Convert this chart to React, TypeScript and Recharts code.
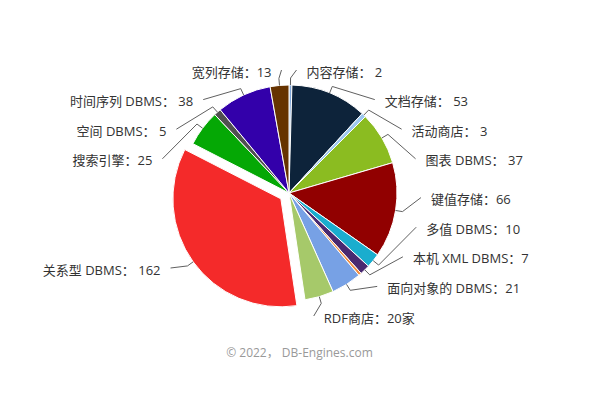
import { PieChart, Pie, Cell } from 'recharts';

const categories = [
  '内容存储', '文档存储', '活动商店', '图表 DBMS', '键值存储', '多值 DBMS', '本机 XML DBMS', '导航 DBMS',
  '面向对象的 DBMS', 'RDF商店', '关系型 DBMS', '搜索引擎', '空间 DBMS', '时间序列 DBMS', '宽列存储',
];
const counts = [2, 53, 3, 37, 66, 10, 7, 2, 21, 20, 162, 25, 5, 38, 13];
// label texts as shown (the tiny navigational slice has its label hidden)
const labelTexts = [
  '内容存储： 2', '文档存储： 53', '活动商店： 3', '图表 DBMS： 37', '键值存储：66', '多值 DBMS：10', '本机 XML DBMS：7', '',
  '面向对象的 DBMS：21', 'RDF商店：20家', '关系型 DBMS： 162', '搜索引擎：25', '空间 DBMS： 5', '时间序列 DBMS： 38', '宽列存储：13',
];
const colors = [
  '#7fa7da', '#0d233a', '#9cc8ef', '#8bbc21', '#910000', '#1aadce', '#492970', '#f28f43',
  '#77a1e5', '#a6c96a', '#f42a2a', '#05a805', '#505050', '#3300aa', '#663300',
];
const slicedCategory = '关系型 DBMS';
const credit = '© 2022， DB-Engines.com';

const data = categories.map((name, i) => ({ name, value: counts[i], label: labelTexts[i] }));

const W = 599;
const H = 407;
const CX = 289;
const CY = 193;
const R = 108;
const SLICE_OFFSET = 10;
const LABEL_R = 122;
const ROW = 29.6;
const TOP = 72;
const BOTTOM = 318;
const RAD = Math.PI / 180;
const FONT = '"Open Sans", "Noto Sans CJK SC", sans-serif';

const total = counts.reduce((a, b) => a + b, 0);
const slicedIndex = categories.indexOf(slicedCategory);

// mid angle of each slice, clockwise from 12 o'clock
const midAngles: number[] = [];
{
  let acc = 0;
  counts.forEach(v => {
    midAngles.push(((acc + v / 2) / total) * 360);
    acc += v;
  });
}

const sliceMid = midAngles[slicedIndex] * RAD;
const slicedCx = CX + SLICE_OFFSET * Math.sin(sliceMid);
const slicedCy = CY - SLICE_OFFSET * Math.cos(sliceMid);

// spread labels in rows on each side so they do not overlap
const labelY: number[] = new Array(counts.length).fill(0);
['right', 'left'].forEach(side => {
  const items = midAngles
    .map((a, i) => ({ i, a }))
    .filter(d => labelTexts[d.i] !== '' && (side === 'right' ? d.a < 180 : d.a >= 180))
    .map(d => {
      const shift = d.i === slicedIndex ? slicedCy - CY : 0;
      return { i: d.i, y: CY - LABEL_R * Math.cos(d.a * RAD) + shift };
    })
    .sort((p, q) => p.y - q.y);
  for (let k = 0; k < items.length; k++) {
    const prev = k > 0 ? items[k - 1].y + ROW : TOP;
    items[k].y = Math.max(items[k].y, prev);
  }
  for (let k = items.length - 1; k >= 0; k--) {
    const next = k < items.length - 1 ? items[k + 1].y - ROW : BOTTOM;
    items[k].y = Math.min(items[k].y, next);
  }
  items.forEach(d => (labelY[d.i] = d.y));
});

function makeLabel(sliced: boolean) {
  return (props: any) => {
    const { cx, cy, midAngle, outerRadius, index } = props;
    if ((index === slicedIndex) !== sliced) return null;
    const text = labelTexts[index];
    if (!text) return null;
    const a = -midAngle * RAD;
    const ex = cx + outerRadius * Math.cos(a);
    const ey = cy + outerRadius * Math.sin(a);
    const bx = cx + (outerRadius + 7) * Math.cos(a);
    const by = cy + (outerRadius + 7) * Math.sin(a);
    const y = labelY[index];
    const right = Math.cos(a) >= 0;
    const t = (y - cy - 3) / 124.2;
    const off = 132 * Math.sqrt(Math.max(0, 1 - t * t));
    const ax = right ? cx + off : cx - off;
    return (
      <g key={`lbl-${index}`}>
        <path
          d={`M${ax},${y - 2}L${bx},${by}L${ex},${ey}`}
          stroke="#606060"
          strokeWidth={1}
          fill="none"
        />
        <text
          x={right ? ax + 10 : ax - 10}
          y={y + 4.5}
          textAnchor={right ? 'start' : 'end'}
          fontSize={13}
          fill="#333333"
          fontFamily={FONT}
        >
          {text}
        </text>
      </g>
    );
  };
}

export default function App() {
  return (
    <div style={{ position: 'absolute', left: 0, top: 0, width: W, height: H, background: '#fff' }}>
      <PieChart width={W} height={H} margin={{ top: 0, right: 0, bottom: 0, left: 0 }}>
        <Pie
          data={data}
          dataKey="value"
          nameKey="name"
          cx={CX}
          cy={CY}
          outerRadius={R}
          startAngle={90}
          endAngle={-270}
          isAnimationActive={false}
          label={makeLabel(false)}
          labelLine={false}
        >
          {data.map((d, i) => (
            <Cell
              key={d.name}
              fill={i === slicedIndex ? 'transparent' : colors[i]}
              stroke={i === slicedIndex ? 'none' : '#ffffff'}
              strokeWidth={1}
            />
          ))}
        </Pie>
        <Pie
          data={data}
          dataKey="value"
          nameKey="name"
          cx={slicedCx}
          cy={slicedCy}
          outerRadius={R}
          startAngle={90}
          endAngle={-270}
          isAnimationActive={false}
          label={makeLabel(true)}
          labelLine={false}
        >
          {data.map((d, i) => (
            <Cell
              key={d.name}
              fill={i === slicedIndex ? colors[i] : 'transparent'}
              stroke={i === slicedIndex ? '#ffffff' : 'none'}
              strokeWidth={1}
            />
          ))}
        </Pie>
      </PieChart>
      <div
        style={{
          position: 'absolute',
          left: 0,
          width: W,
          top: 343,
          textAlign: 'center',
          fontSize: 12,
          color: '#999999',
          fontFamily: FONT,
        }}
      >
        {credit}
      </div>
    </div>
  );
}
